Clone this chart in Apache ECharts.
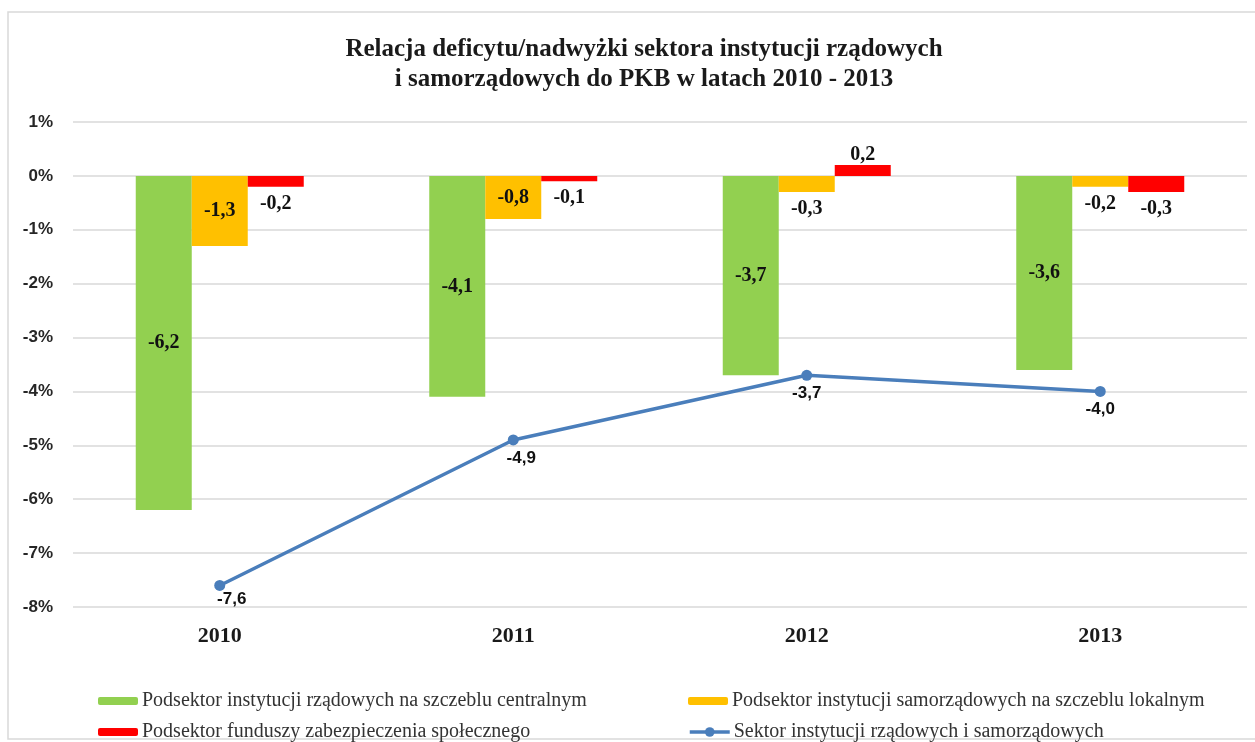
<!DOCTYPE html>
<html>
<head>
<meta charset="utf-8">
<script src="https://cdn.jsdelivr.net/npm/echarts@6/dist/echarts.min.js"></script>
<style>
html,body{margin:0;padding:0;background:#fff;}
#chart{width:1255px;height:742px;}
</style>
</head>
<body>
<div id="chart"></div>
<script>
const categories = ['2010', '2011', '2012', '2013'];
const centralValues = [-6.2, -4.1, -3.7, -3.6];
const localValues = [-1.3, -0.8, -0.3, -0.2];
const socialValues = [-0.2, -0.1, 0.2, -0.3];
const totalValues = [-7.6, -4.9, -3.7, -4.0];
const seriesNames = [
  'Podsektor instytucji rządowych na szczeblu centralnym',
  'Podsektor instytucji samorządowych na szczeblu lokalnym',
  'Podsektor funduszy zabezpieczenia społecznego',
  'Sektor instytucji rządowych i samorządowych'
];
const yMin = -8, yMax = 1, yStep = 1;
const titleText = 'Relacja deficytu/nadwyżki sektora instytucji rządowych\ni samorządowych do PKB w latach 2010 - 2013';

const SERIF = '"Liberation Serif", "Times New Roman", serif';
const SANS = '"Liberation Sans", Arial, sans-serif';
const fmt = v => String(v.toFixed(1)).replace('.', ',');

// label placement (style only)
const localInside = [true, true, false, false];
const totalOffsets = [[12, -4], [8, 0], [0, 0], [0, 0]];
// legend slots (style only): [left, top]
const legendSlots = [[93, 686], [683, 686], [93, 717], [683, 717]];

const barLabelBase = {
  show: true, color: '#111', fontFamily: SERIF, fontWeight: 'bold', fontSize: 20,
  formatter: p => fmt(p.value)
};

const legends = seriesNames.map((name, i) => ({
  left: legendSlots[i][0], top: legendSlots[i][1], padding: 5,
  itemWidth: 40, itemHeight: i === 3 ? 12 : 8,
  lineStyle: {width: 3.5},
  data: [name],
  textStyle: {fontFamily: SERIF, fontSize: 20, lineHeight: 20, color: '#333', padding: [0, 0, 0, -1]}
}));

const chart = echarts.init(document.getElementById('chart'), null, {renderer: 'canvas'});
chart.setOption({
  animation: false,
  backgroundColor: '#fff',
  graphic: [{
    type: 'rect', z: -10, silent: true,
    shape: {x: 8, y: 12, width: 1260, height: 727},
    style: {fill: 'none', stroke: '#d9d9d9', lineWidth: 1.5}
  }],
  title: {
    text: titleText, left: 639, textAlign: 'center', top: 30,
    textStyle: {fontFamily: SERIF, fontWeight: 'bold', fontSize: 25, lineHeight: 30, color: '#1a1a1a'}
  },
  legend: legends,
  grid: {left: 73, right: 8, top: 122, bottom: 135, containLabel: false},
  xAxis: {
    type: 'category', data: categories,
    axisLine: {show: false, onZero: false}, axisTick: {show: false},
    axisLabel: {fontFamily: SERIF, fontWeight: 'bold', fontSize: 22, color: '#1a1a1a', margin: 18}
  },
  yAxis: {
    type: 'value', min: yMin, max: yMax, interval: yStep,
    axisLine: {show: false}, axisTick: {show: false},
    splitLine: {lineStyle: {color: '#d9d9d9', width: 1.5}},
    axisLabel: {formatter: '{value}%', fontFamily: SANS, fontWeight: 'bold', fontSize: 17, color: '#262626', margin: 20}
  },
  series: [{
    name: seriesNames[0], type: 'bar', barWidth: 56, barGap: '0%',
    itemStyle: {color: '#92D050'},
    label: Object.assign({}, barLabelBase, {position: 'inside'}),
    data: centralValues
  }, {
    name: seriesNames[1], type: 'bar', barWidth: 56, barGap: '0%',
    itemStyle: {color: '#FFC000'},
    data: localValues.map((v, i) => ({
      value: v,
      label: Object.assign({}, barLabelBase, localInside[i] ? {position: 'inside'} : {position: 'outside', distance: 7})
    }))
  }, {
    name: seriesNames[2], type: 'bar', barWidth: 56, barGap: '0%',
    itemStyle: {color: '#FF0000'},
    data: socialValues.map(v => ({
      value: v,
      label: Object.assign({}, barLabelBase, {position: 'outside', distance: v > 0 ? 0 : 7})
    }))
  }, {
    name: seriesNames[3], type: 'line', z: 5,
    symbol: 'circle', symbolSize: 11,
    lineStyle: {color: '#4A7EBB', width: 3.5},
    itemStyle: {color: '#4A7EBB'},
    data: totalValues.map((v, i) => ({
      value: v,
      label: {
        show: true, position: 'bottom', distance: 4, offset: totalOffsets[i],
        fontFamily: SANS, fontWeight: 'bold', fontSize: 17, color: '#111',
        formatter: p => fmt(p.value)
      }
    }))
  }]
});
</script>
</body>
</html>
